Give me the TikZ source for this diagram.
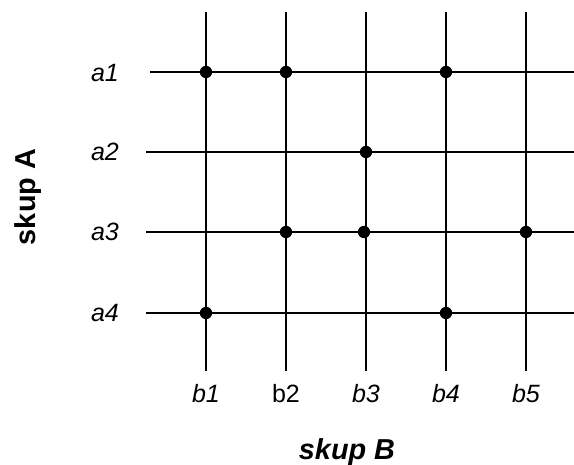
\documentclass[tikz,border=0pt]{standalone}
\usepackage{fontspec}
\setmainfont{Liberation Sans}

\begin{document}
\begin{tikzpicture}[
    x=0.025cm, y=-0.025cm,
    gridline/.style={line width=1.4pt},
    dot/.style={circle, fill=black, inner sep=0pt, minimum size=0.31cm},
    lab/.style={inner sep=0pt, font=\fontsize{17.8}{20}\selectfont\itshape},
    labup/.style={inner sep=0pt, font=\fontsize{17.8}{20}\selectfont},
    setname/.style={inner sep=0pt, font=\fontsize{20.5}{23}\selectfont\bfseries},
]
\useasboundingbox (0,0) rectangle (574,465);

% line ends
\foreach \x [count=\i] in {206,286,366,446,526} {
    \coordinate (b\i-top) at (\x,12);
    \coordinate (b\i-bot) at (\x,371);
}
\coordinate (a1-left) at (150,72);
\coordinate (a2-left) at (146,152);
\coordinate (a3-left) at (146,232);
\coordinate (a4-left) at (146,313);
\foreach \i in {1,...,4} {
    \coordinate (a\i-right) at (a\i-left -| 574,0);
}

% grid
\foreach \i in {1,...,5} {
    \draw[gridline] (b\i-top) -- (b\i-bot);
}
\foreach \i in {1,...,4} {
    \draw[gridline] (a\i-left) -- (a\i-right);
}

% pairs
\node[dot] (a1b1) at (b1-top |- a1-left) {};
\node[dot] (a1b2) at (b2-top |- a1-left) {};
\node[dot] (a1b4) at (b4-top |- a1-left) {};
\node[dot] (a2b3) at (b3-top |- a2-left) {};
\node[dot] (a3b2) at (b2-top |- a3-left) {};
\node[dot] (a3b3) at (364,232) {};
\node[dot] (a3b5) at (b5-top |- a3-left) {};
\node[dot] (a4b1) at (b1-top |- a4-left) {};
\node[dot] (a4b4) at (b4-top |- a4-left) {};

% labels
\node[lab] (a1) at (105,73) {a1};
\node[lab] (a2) at (105,152) {a2};
\node[lab] (a3) at (105,232) {a3};
\node[lab] (a4) at (105,313) {a4};
\node[lab] (b1) at (206,394) {b1};
\node[labup] (b2) at (286,394) {b2};
\node[lab] (b3) at (366,394) {b3};
\node[lab] (b4) at (446,394) {b4};
\node[lab] (b5) at (526,394) {b5};

\node[setname, rotate=90, anchor=base] (skupA) at (35,197) {skup A};
\node[setname, font=\fontsize{20.5}{23}\selectfont\bfseries\itshape, anchor=base] (skupB) at (347,460) {skup B};

\end{tikzpicture}
\end{document}
